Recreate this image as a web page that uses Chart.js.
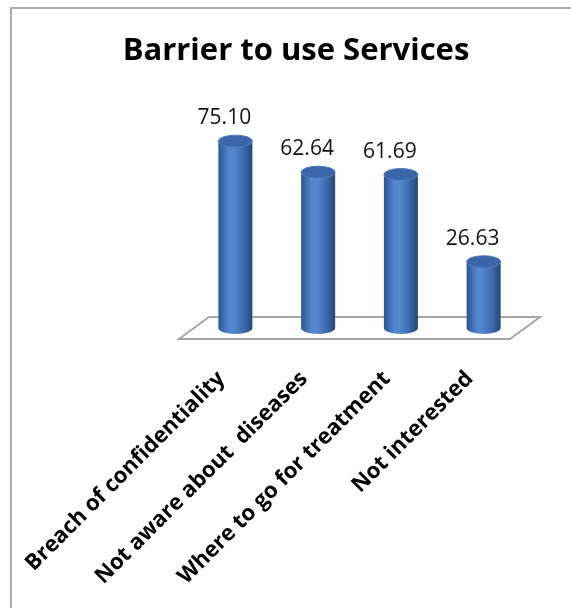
<!DOCTYPE html>
<html>
<head>
<meta charset="utf-8">
<script src="https://cdn.jsdelivr.net/npm/chart.js@4.4.1/dist/chart.umd.min.js"></script>
<style>
  html, body { margin: 0; padding: 0; background: #fff; }
  #wrap { width: 571px; height: 608px; }
</style>
</head>
<body>
<div id="wrap"><canvas id="myChart" width="571" height="608"></canvas></div>
<script>
var categories = [
    'Breach of confidentiality',
    'Not aware about  diseases',
    'Where to go for treatment',
    'Not interested'
];
var percentages = [75.10, 62.64, 61.69, 26.63];

// frame line along the top and left edge
var framePlugin = {
    id: 'frame',
    beforeDraw: function(chart) {
        var c = chart.ctx;
        c.save();
        c.strokeStyle = '#ababab';
        c.lineWidth = 2;
        c.beginPath();
        c.moveTo(11, chart.height);
        c.lineTo(11, 8);
        c.lineTo(chart.width, 8);
        c.stroke();
        c.restore();
    }
};

// slanted floor under the bars, built from the x extent and the zero line
var floorPlugin = {
    id: 'floor',
    beforeDatasetsDraw: function(chart) {
        var c = chart.ctx;
        var area = chart.chartArea;
        var y0 = chart.scales.y.getPixelForValue(0);
        var dx = 15, dy = 11;
        c.save();
        c.beginPath();
        c.moveTo(area.left + dx, y0 - dy);
        c.lineTo(area.right + dx, y0 - dy);
        c.lineTo(area.right - dx, y0 + dy);
        c.lineTo(area.left - dx, y0 + dy);
        c.closePath();
        c.fillStyle = '#ffffff';
        c.fill();
        c.strokeStyle = '#a6a6a6';
        c.lineWidth = 2;
        c.stroke();
        c.restore();
    }
};

// cylinders drawn on top of each bar element, plus the value above
var cylinderPlugin = {
    id: 'cylinders',
    afterDatasetsDraw: function(chart) {
        var c = chart.ctx;
        var meta = chart.getDatasetMeta(0);
        meta.data.forEach(function(bar, i) {
            var x = bar.x, top = bar.y, base = bar.base;
            var rx = bar.width / 2, ry = 6;
            c.save();
            var g = c.createLinearGradient(x - rx, 0, x + rx, 0);
            g.addColorStop(0, '#2c5493');
            g.addColorStop(0.3, '#5284cc');
            g.addColorStop(0.45, '#5588d1');
            g.addColorStop(0.75, '#3d6aae');
            g.addColorStop(1, '#234676');
            c.beginPath();
            c.moveTo(x - rx, top);
            c.lineTo(x - rx, base);
            c.ellipse(x, base, rx, ry, 0, Math.PI, 0, true);
            c.lineTo(x + rx, top);
            c.ellipse(x, top, rx, ry, 0, 0, Math.PI, false);
            c.closePath();
            c.fillStyle = g;
            c.fill();

            c.beginPath();
            c.ellipse(x, top, rx, ry, 0, 0, Math.PI * 2);
            c.fillStyle = '#3a65a8';
            c.fill();
            c.strokeStyle = '#4a79bd';
            c.lineWidth = 1;
            c.stroke();

            c.fillStyle = '#111111';
            c.font = '21px "Open Sans"';
            c.textAlign = 'center';
            c.textBaseline = 'alphabetic';
            c.fillText(percentages[i].toFixed(2), x - 11, top - 17);
            c.restore();
        });
    }
};

var ctx = document.getElementById('myChart').getContext('2d');
var myChart = new Chart(ctx, {
    type: 'bar',
    data: {
        labels: categories,
        datasets: [{
            data: percentages,
            backgroundColor: 'rgba(0,0,0,0)',
            barThickness: 34
        }]
    },
    options: {
        responsive: false,
        animation: false,
        layout: {
            padding: { left: 67, right: 46, top: 0, bottom: 0 }
        },
        plugins: {
            legend: { display: false },
            tooltip: { enabled: false },
            title: {
                display: true,
                text: 'Barrier to use Services',
                color: '#000000',
                font: { size: 31, weight: 'bold', family: 'Open Sans' },
                padding: { top: 33, bottom: 9 }
            }
        },
        scales: {
            x: {
                grid: { display: false, drawTicks: false },
                border: { display: false },
                ticks: {
                    minRotation: 45,
                    maxRotation: 45,
                    autoSkip: false,
                    labelOffset: -14,
                    padding: 38,
                    color: '#000000',
                    font: { size: 22, weight: 'bold', family: 'Open Sans' }
                },
                afterFit: function(scale) {
                    // long rotated labels may hang past the plot edge
                    scale.height = 280;
                    scale.paddingLeft = 0;
                    scale.paddingRight = 0;
                }
            },
            y: {
                min: 0,
                max: 100,
                grid: { display: false },
                border: { display: false },
                ticks: { display: false },
                afterFit: function(scale) { scale.width = 127; }
            }
        }
    },
    plugins: [framePlugin, floorPlugin, cylinderPlugin]
});
</script>
</body>
</html>
